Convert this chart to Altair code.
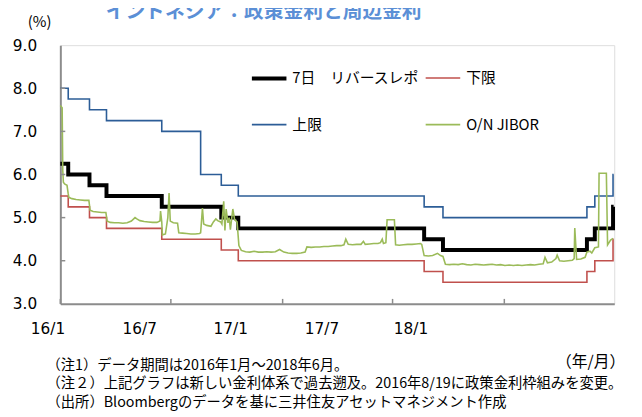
import altair as alt
import pandas as pd

# ---------------- data ----------------
# legend fills column by column: col 1 = 7日 / 上限, col 2 = 下限 / O/N JIBOR
SERIES = ["7日　リバースレポ", "上限", "下限", "O/N JIBOR"]
COLORS = ["#000000", "#2c5d97", "#c0504d", "#9bbb59"]
WIDTHS = [4, 1.6, 1.6, 1.6]

policy_dates = ["2016-01-01", "2016-01-14", "2016-02-18", "2016-03-17", "2016-06-16",
                "2016-08-19", "2016-09-22", "2016-10-20", "2017-08-22", "2017-09-22",
                "2018-05-17", "2018-05-30", "2018-06-29", "2018-06-30"]
rr_values = [6.25, 6.00, 5.75, 5.50, 5.25, 5.25, 5.00, 4.75, 4.50, 4.25, 4.50, 4.75, 5.25, 5.25]
upper_values = [8.00, 7.75, 7.50, 7.25, 7.00, 6.00, 5.75, 5.50, 5.25, 5.00, 5.25, 5.50, 6.00, 6.00]
lower_values = [5.50, 5.25, 5.00, 4.75, 4.50, 4.50, 4.25, 4.00, 3.75, 3.50, 3.75, 4.00, 4.50, 4.50]

jibor_dates = [
    "2016-01-01", "2016-01-04", "2016-01-05", "2016-01-06", "2016-01-08", "2016-01-12", "2016-01-14",
    "2016-01-15", "2016-01-20", "2016-01-27", "2016-02-03", "2016-02-10", "2016-02-17", "2016-02-19",
    "2016-02-24", "2016-03-02", "2016-03-09", "2016-03-16", "2016-03-18", "2016-03-23", "2016-03-30",
    "2016-04-06", "2016-04-13", "2016-04-20", "2016-04-27", "2016-05-03", "2016-05-06", "2016-05-11",
    "2016-05-18", "2016-05-25", "2016-06-01", "2016-06-08", "2016-06-13", "2016-06-14", "2016-06-16",
    "2016-06-17", "2016-06-22", "2016-06-26", "2016-06-28", "2016-06-30", "2016-07-05", "2016-07-12",
    "2016-07-14", "2016-07-20", "2016-07-27", "2016-08-03", "2016-08-10", "2016-08-17", "2016-08-19",
    "2016-08-22", "2016-08-24", "2016-08-29", "2016-09-05", "2016-09-09", "2016-09-13", "2016-09-16",
    "2016-09-21", "2016-09-23", "2016-09-26", "2016-09-28", "2016-09-30", "2016-10-03", "2016-10-05",
    "2016-10-07", "2016-10-11", "2016-10-14", "2016-10-18", "2016-10-21", "2016-10-25", "2016-11-01",
    "2016-11-08", "2016-11-15", "2016-11-22", "2016-11-29", "2016-12-06", "2016-12-13", "2016-12-20",
    "2016-12-27", "2017-01-03", "2017-01-10", "2017-01-17", "2017-01-24", "2017-01-31", "2017-02-07",
    "2017-02-10", "2017-02-17", "2017-02-24", "2017-03-03", "2017-03-10", "2017-03-17", "2017-03-24",
    "2017-03-31", "2017-04-07", "2017-04-12", "2017-04-15", "2017-04-19", "2017-04-26", "2017-05-03",
    "2017-05-10", "2017-05-14", "2017-05-17", "2017-05-24", "2017-05-31", "2017-06-07", "2017-06-11",
    "2017-06-14", "2017-06-16", "2017-06-20", "2017-06-22", "2017-07-04", "2017-07-06", "2017-07-12",
    "2017-07-19", "2017-07-26", "2017-08-02", "2017-08-09", "2017-08-16", "2017-08-18", "2017-08-22",
    "2017-08-29", "2017-09-05", "2017-09-13", "2017-09-18", "2017-09-22", "2017-09-26", "2017-10-03",
    "2017-10-10", "2017-10-17", "2017-10-24", "2017-10-31", "2017-11-07", "2017-11-14", "2017-11-21",
    "2017-11-28", "2017-12-05", "2017-12-12", "2017-12-19", "2017-12-26", "2018-01-02", "2018-01-09",
    "2018-01-16", "2018-01-23", "2018-01-30", "2018-02-06", "2018-02-13", "2018-02-20", "2018-02-27",
    "2018-03-06", "2018-03-09", "2018-03-13", "2018-03-20", "2018-03-27", "2018-03-29", "2018-04-02",
    "2018-04-09", "2018-04-16", "2018-04-23", "2018-04-26", "2018-04-27", "2018-04-30", "2018-05-07",
    "2018-05-14", "2018-05-17", "2018-05-22", "2018-05-25", "2018-05-30", "2018-06-05", "2018-06-06",
    "2018-06-18", "2018-06-20", "2018-06-25", "2018-06-29"]
jibor_values = [
    7.60, 7.55, 6.10, 5.82, 5.78, 5.75, 5.55,
    5.47, 5.44, 5.42, 5.41, 5.40, 5.40, 5.17,
    5.14, 5.13, 5.12, 5.12, 4.92, 4.89, 4.88,
    4.88, 4.87, 4.88, 4.92, 5.00, 4.97, 4.93,
    4.91, 4.90, 4.89, 4.89, 4.92, 5.15, 4.90,
    4.60, 4.62, 5.00, 5.57, 4.92, 4.88, 4.87,
    4.65, 4.64, 4.63, 4.62, 4.62, 4.63, 4.65,
    5.22, 4.85, 4.82, 4.80, 4.90, 4.97, 4.93,
    4.90, 4.85, 5.38, 4.70, 5.20, 4.88, 5.00,
    4.72, 5.20, 4.95, 4.90, 4.35, 4.24, 4.21,
    4.20, 4.22, 4.20, 4.20, 4.21, 4.20, 4.21,
    4.26, 4.20, 4.18, 4.17, 4.17, 4.18, 4.20,
    4.32, 4.31, 4.32, 4.32, 4.33, 4.33, 4.34,
    4.35, 4.35, 4.37, 4.50, 4.38, 4.37, 4.38,
    4.38, 4.45, 4.38, 4.39, 4.40, 4.40, 4.42,
    4.50, 4.40, 4.42, 4.95, 4.95, 4.37, 4.36,
    4.37, 4.38, 4.38, 4.39, 4.40, 4.38, 4.12,
    4.11, 4.12, 4.17, 4.12, 4.10, 3.92, 3.91,
    3.92, 3.91, 3.93, 3.91, 3.90, 3.92, 3.91,
    3.90, 3.91, 3.92, 3.90, 3.91, 3.89, 3.90,
    3.89, 3.90, 3.89, 3.90, 3.91, 3.90, 3.92,
    3.93, 4.08, 3.95, 3.97, 4.05, 4.13, 4.00,
    3.99, 4.00, 4.01, 4.05, 4.76, 4.03, 4.04,
    4.08, 4.20, 4.22, 4.18, 4.30, 4.32, 6.03,
    6.03, 4.37, 4.48, 4.52]

y_ticks = [3, 4, 5, 6, 7, 8, 9]
x_tick_dates = ["2016-01-01", "2016-07-01", "2017-01-01", "2017-07-01", "2018-01-01"]

TITLE = "インドネシア：政策金利と周辺金利"
UNIT_Y = "(%)"
UNIT_X = "（年/月）"
NOTES = ["（注1）データ期間は2016年1月～2018年6月。",
         "（注２）上記グラフは新しい金利体系で過去遡及。2016年8/19に政策金利枠組みを変更。",
         "（出所）Bloombergのデータを基に三井住友アセットマネジメント作成"]

# ---------------- tables ----------------
rows = []
for d, v in zip(policy_dates, rr_values):
    rows.append({"series": SERIES[0], "date": d, "value": v})
for d, v in zip(policy_dates, upper_values):
    rows.append({"series": SERIES[1], "date": d, "value": v})
for d, v in zip(policy_dates, lower_values):
    rows.append({"series": SERIES[2], "date": d, "value": v})
for d, v in zip(jibor_dates, jibor_values):
    rows.append({"series": SERIES[3], "date": d, "value": v})
df = pd.DataFrame(rows)
ticks_x_df = pd.DataFrame({"date": x_tick_dates})
ticks_y_df = pd.DataFrame({"v": y_ticks[1:-1]})

JP = "Noto Sans CJK JP"
NUM = "DejaVu Sans"
GREY = "#8c8c8c"

def dt(s):
    y, m, d = [int(p) for p in s.split("-")]
    return alt.DateTime(year=y, month=m, date=d, utc=True)

x_scale = alt.Scale(type="utc", domain=[dt("2016-01-01"), dt("2018-07-01")], nice=False)
y_scale = alt.Scale(domain=[3, 9], nice=False, zero=False)

label_offset = {
    "condition": [
        {"test": "datum.value >= utc(2018,0,1)", "value": -95},
        {"test": "datum.value >= utc(2017,6,1)", "value": -72},
        {"test": "datum.value >= utc(2017,0,1)", "value": -53},
        {"test": "datum.value >= utc(2016,6,1)", "value": -32},
    ],
    "value": -13,
}

x_axis = alt.Axis(values=[dt(s) for s in x_tick_dates], format="%y/%-m", title=None,
                  ticks=False, tickSize=0, grid=False, domainColor=GREY, domainWidth=2,
                  labelFont=NUM, labelFontSize=15.5, labelColor="black", labelPadding=18,
                  labelOffset=label_offset, labelFlush=False, labelOverlap=False)
y_axis = alt.Axis(values=y_ticks, format=".1f", title=None, ticks=False, tickSize=0,
                  grid=False, domainColor=GREY, domainWidth=2, labelFont=NUM,
                  labelFontSize=15.5, labelColor="black", labelPadding=24)

legend = alt.Legend(orient="none", legendX=192, legendY=14, columns=2, title=None,
                    symbolType="stroke", symbolSize=1225, labelFont=JP, labelFontSize=15,
                    labelColor="black", labelOffset=4, rowPadding=20, columnPadding=2,
                    padding=0)

color = alt.Color("series:N", scale=alt.Scale(domain=SERIES, range=COLORS), legend=legend)
swidth = alt.StrokeWidth("series:N",
                         scale=alt.Scale(type="ordinal", domain=SERIES, range=WIDTHS),
                         legend=legend)

base = alt.Chart(df).encode(
    x=alt.X("date:T", scale=x_scale, axis=x_axis),
    y=alt.Y("value:Q", scale=y_scale, axis=y_axis),
    color=color,
    strokeWidth=swidth,
)

def step_layer(name):
    return base.transform_filter(alt.datum.series == name).mark_line(interpolate="step-after")

layers = [
    step_layer(SERIES[0]),
    step_layer(SERIES[1]),
    step_layer(SERIES[2]),
    base.transform_filter(alt.datum.series == SERIES[3]).mark_line(),
]

xticks = alt.Chart(ticks_x_df).mark_rule(color=GREY, strokeWidth=1.5).encode(
    x=alt.X("date:T", scale=x_scale), y=alt.value(262), y2=alt.value(257))
yticks = alt.Chart(ticks_y_df).mark_rule(color=GREY, strokeWidth=1.5).encode(
    y=alt.Y("v:Q", scale=y_scale), x=alt.value(0), x2=alt.value(5))

def txt(s, x, y, size, font=JP, align="left", color="black", weight="normal"):
    return alt.Chart(pd.DataFrame({"t": [s]})).mark_text(
        align=align, baseline="middle", font=font, fontSize=size, color=color,
        fontWeight=weight).encode(text="t:N", x=alt.value(x), y=alt.value(y))

texts = [
    txt(TITLE, 206, -33, 20, align="center", color="#5b8fd6", weight="bold"),
    txt(UNIT_Y, -21, -23, 15, align="center"),
    txt(UNIT_X, 537, 321, 16, align="center"),
    txt(NOTES[0], -14, 325, 14.5),
    txt(NOTES[1], -14, 343.5, 14.5),
    txt(NOTES[2], -14, 362, 14.5),
]

chart = alt.layer(*layers, xticks, yticks, *texts).properties(
    width=561, height=262,
    padding={"left": 53, "top": 35, "right": 20, "bottom": 114},
    autosize=alt.AutoSizeParams(type="none"),
).configure_view(stroke=GREY, strokeWidth=1.5).configure(background="white")

chart.save("out.html", embed_options={"renderer": "svg", "actions": False})
